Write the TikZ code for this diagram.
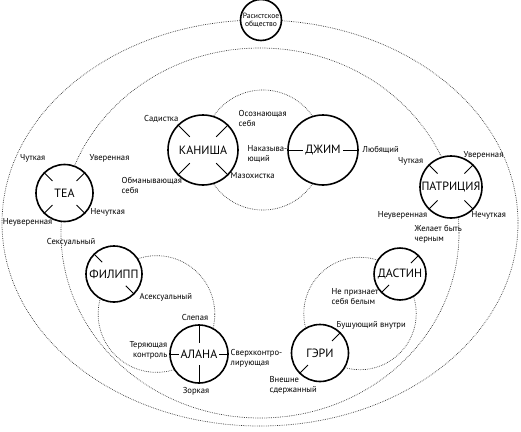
\documentclass[tikz,border=0pt]{standalone}
\usepackage{fontspec}
\setmainfont{PT Sans}
\usetikzlibrary{calc, through, backgrounds}

\begin{document}
\begin{tikzpicture}[
  x=1pt, y=-1pt,
  font=\fontsize{8.6}{10}\selectfont,
  person/.style={circle, draw, line width=1.6pt, fill=white, inner sep=0pt,
                 minimum size=#1, font=\fontsize{12}{12}\selectfont},
  society/.style={person=41pt, align=center, font=\fontsize{7.6}{8}\selectfont},
  trait/.style={inner sep=0.5pt, align=left},
  tick/.style={line width=0.9pt},
  orbit/.style={draw, black!80, line width=0.7pt, dash pattern=on 0.7pt off 1.1pt},
]
\useasboundingbox (0,0) rectangle (521,431);

% Circles
\node[society]       (society)  at (261,20)      {Расистское\\общество};
\node[person=70pt]   (kanisha)  at (203,150)     {КАНИША};
\node[person=70pt]   (jim)      at (323,150)     {ДЖИМ};
\node[person=57pt]   (tea)      at (64.5,193)    {ТЕА};
\node[person=62pt]   (patricia) at (451,187)     {ПАТРИЦИЯ};
\node[person=56pt]   (filipp)   at (114,274)     {ФИЛИПП};
\node[person=52pt]   (dustin)   at (400,274)     {ДАСТИН};
\node[person=58pt]   (alana)    at (199,354)     {АЛАНА};
\node[person=57pt]   (geri)     at (320,353)     {ГЭРИ};

% Ticks
\foreach \n/\a/\f in {kanisha/45/.52, kanisha/135/.52, kanisha/225/.52, kanisha/315/.52,
                      tea/45/.58, tea/135/.58, tea/225/.58, tea/315/.58,
                      patricia/45/.6, patricia/135/.6, patricia/225/.6, patricia/315/.6,
                      jim/0/.55, jim/180/.55,
                      alana/90/.38, alana/270/.38, alana/0/.68, alana/180/.68,
                      filipp/135/.58, filipp/315/.58,
                      dustin/45/.58, dustin/225/.58,
                      geri/45/.58, geri/225/.58}
  \draw[tick] (\n.\a) -- ($(\n.center)!\f!(\n.\a)$);

% Traits
\node[trait, anchor=east] (kan-sad)     at (179,119) {Садистка};
\node[trait, anchor=west] (kan-aware)   at (238,118) {Осознающая\\себя};
\node[trait, anchor=west] (kan-deceive) at (121,185) {Обманывающая\\себя};
\node[trait, anchor=west] (kan-maso)    at (230,176) {Мазохистка};
\node[trait, anchor=west] (jim-punish)  at (247,154) {Наказыва-\\ющий};
\node[trait, anchor=west] (jim-love)    at (362,150) {Любящий};

\node[trait, anchor=east] (tea-sens)    at (46,158)  {Чуткая};
\node[trait, anchor=west] (tea-conf)    at (89,158)  {Уверенная};
\node[trait, anchor=east] (tea-unconf)  at (53,222)  {Неуверенная};
\node[trait, anchor=west] (tea-insens)  at (90,212)  {Нечуткая};

\node[trait, anchor=east] (pat-sens)    at (424,161) {Чуткая};
\node[trait, anchor=west] (pat-conf)    at (463,155) {Уверенная};
\node[trait, anchor=east] (pat-unconf)  at (428,215) {Неуверенная};
\node[trait, anchor=west] (pat-insens)  at (471,215) {Нечуткая};

\node[trait, anchor=west] (dus-black)   at (414,234) {Желает быть\\черным};
\node[trait, anchor=west] (dus-white)   at (331,297) {Не признает\\себя белым};

\node[trait, anchor=east] (fil-sex)     at (96,242)  {Сексуальный};
\node[trait, anchor=west] (fil-asex)    at (139,297) {Асексуальный};

\node[trait]              (ala-blind)   at (195,317) {Слепая};
\node[trait]              (ala-sharp)   at (196,391) {Зоркая};
\node[trait, anchor=east, align=right] (ala-lose) at (168,350) {Теряющая\\контроль};
\node[trait, anchor=west] (ala-over)    at (230,358) {Сверхконтро-\\лирующая};

\node[trait, anchor=west] (ger-rage)    at (336,325) {Бушующий внутри};
\node[trait, anchor=west] (ger-calm)    at (269,385) {Внешне\\сдержанный};

% Orbits behind the circles
\begin{scope}[on background layer]
  \draw[orbit] (260,223) ellipse [x radius=258, y radius=203];
  \draw[orbit] (260,233) ellipse [x radius=199, y radius=185];
  \node (loop-kj) at ($(kanisha)!.5!(jim)$)    [orbit, circle through=(kanisha)] {};
  \node (loop-fa) at ($(filipp)!.5!(alana)$)   [orbit, circle through=(filipp)] {};
  \node (loop-dg) at ($(dustin)!.5!(geri)$)    [orbit, circle through=(dustin)] {};
\end{scope}
\end{tikzpicture}
\end{document}
